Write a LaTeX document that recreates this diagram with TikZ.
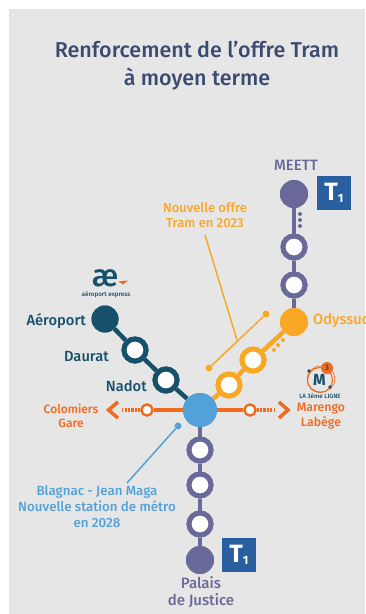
\documentclass[tikz,border=0pt]{standalone}
\usepackage{fontspec}
\setmainfont{Fira Sans Medium}[BoldFont={Fira Sans Bold}]
\definecolor{bgg}{HTML}{E6E6E6}
\definecolor{titlec}{HTML}{3C4A70}
\definecolor{purp}{HTML}{6A6A9A}
\definecolor{oran}{HTML}{F9A826}
\definecolor{dark}{HTML}{17506B}
\definecolor{hub}{HTML}{52A2D9}
\definecolor{red}{HTML}{EE6A1F}
\definecolor{tone}{HTML}{2A5F9F}
\tikzset{
  st/.style={circle,inner sep=0pt,minimum size=#1},
  hollow/.style={st=22pt,fill=white,line width=5pt},
  solid/.style={st=28pt},
  lbl/.style={inner sep=0pt,align=center,font=\fontsize{12.5}{16}\selectfont},
  tbox/.style={fill=tone,inner sep=0pt,minimum size=34pt,text=white},
  lead/.style={line width=1.5pt},
  tip/.style={circle,inner sep=0pt,minimum size=7pt}
}
\newcommand{\tonelabel}{\fontsize{25}{25}\selectfont\bfseries T\raisebox{-2pt}{\fontsize{12}{12}\selectfont 1}}
\begin{document}
\begin{tikzpicture}[x=1pt,y=-1pt]
\useasboundingbox (0,0) rectangle (365,614);
\fill[bgg] (9,9) rectangle (365,614);
\begin{scope}
\clip (0,0) rectangle (365,614);
\node[lbl,text=titlec,font=\fontsize{21.5}{28}\selectfont] (title) at (197,66) {Renforcement de l’offre Tram\\à moyen terme};

% stations
\node[solid,fill=purp] (meett) at (294,194) {};
\node[hollow,draw=purp] (p1) at (294,247) {};
\node[hollow,draw=purp] (p2) at (294,285) {};
\node[solid,fill=oran] (ody) at (294,322) {};
\node[hollow,draw=oran] (o1) at (253,360) {};
\node[hollow,draw=oran] (o2) at (229,385) {};
\node[st=27pt,fill=dark] (aero) at (105,319) {};
\node[hollow,draw=dark] (dau) at (135,350) {};
\node[hollow,draw=dark] (nad) at (166,380) {};
\node[st=34pt,fill=hub] (hubn) at (200,410) {};
\node[hollow,draw=purp] (s1) at (200,450) {};
\node[hollow,draw=purp] (s2) at (200,485) {};
\node[hollow,draw=purp] (s3) at (200,524) {};
\node[solid,fill=purp] (pal) at (200,560) {};
\node[st=11pt,fill=white,draw=red,line width=2.2pt] (wl) at (147,410) {};
\node[st=11pt,fill=white,draw=red,line width=2.2pt] (el) at (250,410) {};
\coordinate (wd) at (122,410);
\coordinate (ed) at (275,410);
\coordinate (wtip) at (108.5,410);
\coordinate (etip) at (288,410);

% lines
\begin{scope}[line width=4.5pt]
\draw[purp] (meett)--(p1); \draw[purp] (p1)--(p2); \draw[purp] (p2)--(ody);
\draw[oran] (ody)--(o1); \draw[oran] (o1)--(o2); \draw[oran] (o2)--(hubn);
\draw[dark] (aero)--(dau); \draw[dark] (dau)--(nad); \draw[dark] (nad)--(hubn);
\draw[purp] (hubn)--(s1); \draw[purp] (s1)--(s2); \draw[purp] (s2)--(s3); \draw[purp] (s3)--(pal);
\draw[red] (wl)--(hubn); \draw[red] (hubn)--(el);
\draw[red,dash pattern=on 2.2pt off 1.2pt] (wl)--(wd);
\draw[red,dash pattern=on 2.2pt off 1.2pt] (el)--(ed);
\end{scope}
\draw[red,line width=3.5pt] (118,402)--(wtip)--(118,418);
\draw[red,line width=3.5pt] (279,402)--(etip)--(279,418);
% redraw stations on top
\node[solid,fill=purp] at (meett) {};
\foreach \c/\n in {purp/p1,purp/p2,oran/o1,oran/o2,dark/dau,dark/nad,purp/s1,purp/s2,purp/s3}
  \node[hollow,draw=\c] at (\n) {};
\node[solid,fill=oran] at (ody) {};
\node[st=27pt,fill=dark] at (aero) {};
\node[solid,fill=purp] at (pal) {};
\node[st=34pt,fill=hub] at (hubn) {};
\node[st=11pt,fill=white,draw=red,line width=2.2pt] at (wl) {};
\node[st=11pt,fill=white,draw=red,line width=2.2pt] at (el) {};

% small dots
\fill[purp] (300,214) circle (2) (300,220) circle (2) (300,226) circle (2);
\fill[oran] (283,340) circle (2) (278,345) circle (2) (274,350) circle (2);

% labels
\node[lbl,text=purp,font=\fontsize{15}{17}\selectfont] (tm) at (296,165) {MEETT};
\node[tbox] (t1a) at (334,193) {\tonelabel};
\node[tbox] (t1b) at (239,555) {\tonelabel};
\node[lbl,text=purp,font=\fontsize{15}{17.5}\selectfont] (tp) at (201,592) {Palais\\de Justice};
\node[lbl,text=oran,anchor=west,font=\fontsize{14.7}{16}\selectfont] (to) at (313,321) {Odyssud};
\node[lbl,text=dark,anchor=east,font=\fontsize{14.7}{16}\selectfont] (ta) at (86,321) {Aéroport};
\node[lbl,text=dark,anchor=east,font=\fontsize{14.7}{16}\selectfont] (td) at (109,357) {Daurat};
\node[lbl,text=dark,anchor=east,font=\fontsize{14.7}{16}\selectfont] (tn) at (147,386) {Nadot};
\node[lbl,text=red,font=\fontsize{12}{14.5}\selectfont] (tc) at (71,416) {Colomiers\\Gare};
\node[lbl,text=red,font=\fontsize{12.3}{14.5}\selectfont] (tmar) at (321,416) {Marengo\\Labège};
\node[lbl,text=oran,font=\fontsize{13}{15}\selectfont] (tno) at (205,215) {Nouvelle offre\\Tram en 2023};
\node[lbl,text=hub,font=\fontsize{13.3}{16}\selectfont] (tb) at (97,507) {Blagnac - Jean Maga\\Nouvelle station de métro\\en 2028};

% leaders
\node[tip,fill=oran] (ot1) at (266,314) {};
\node[tip,fill=oran] (ot2) at (209,368) {};
\coordinate (oj) at (237,340);
\coordinate (os) at (205,235);
\draw[oran,lead] (ot1)--(ot2);
\draw[oran,lead] (os)--(oj);
\node[tip,fill=hub] (bt) at (178,426) {};
\coordinate (bs) at (127,483);
\draw[hub,lead] (bt)--(bs);

% logos
\node[inner sep=0pt,text=dark,font=\fontsize{31}{31}\selectfont] (ae) at (105,278.5) {æ};
\fill[red] (118.5,281.5)--(128,280.5)--(123,284.5)--cycle;
\node[inner sep=0pt,text=dark,font=\fontsize{6.3}{7}\selectfont] (aet) at (106,295) {aéroport express};
\draw[red,line width=1pt] (320,380) circle (12.5);
\draw[red,line width=.7pt] (321,379) ellipse (14 and 13);
\node[inner sep=0pt,text=dark,font=\bfseries\fontsize{16}{16}\selectfont] (mm) at (319.5,380) {M};
\node[circle,fill=red,inner sep=0pt,minimum size=12pt,text=dark,font=\fontsize{8}{8}\selectfont] (m3) at (327,368) {3};
\fill[dark] (309,371) circle (1.8) (330,387) circle (1.8);
\node[inner sep=0pt,text=dark,font=\fontsize{6.2}{7}\selectfont] (mt) at (320,396) {LA 3ème LIGNE};
\end{scope}
\end{tikzpicture}
\end{document}
